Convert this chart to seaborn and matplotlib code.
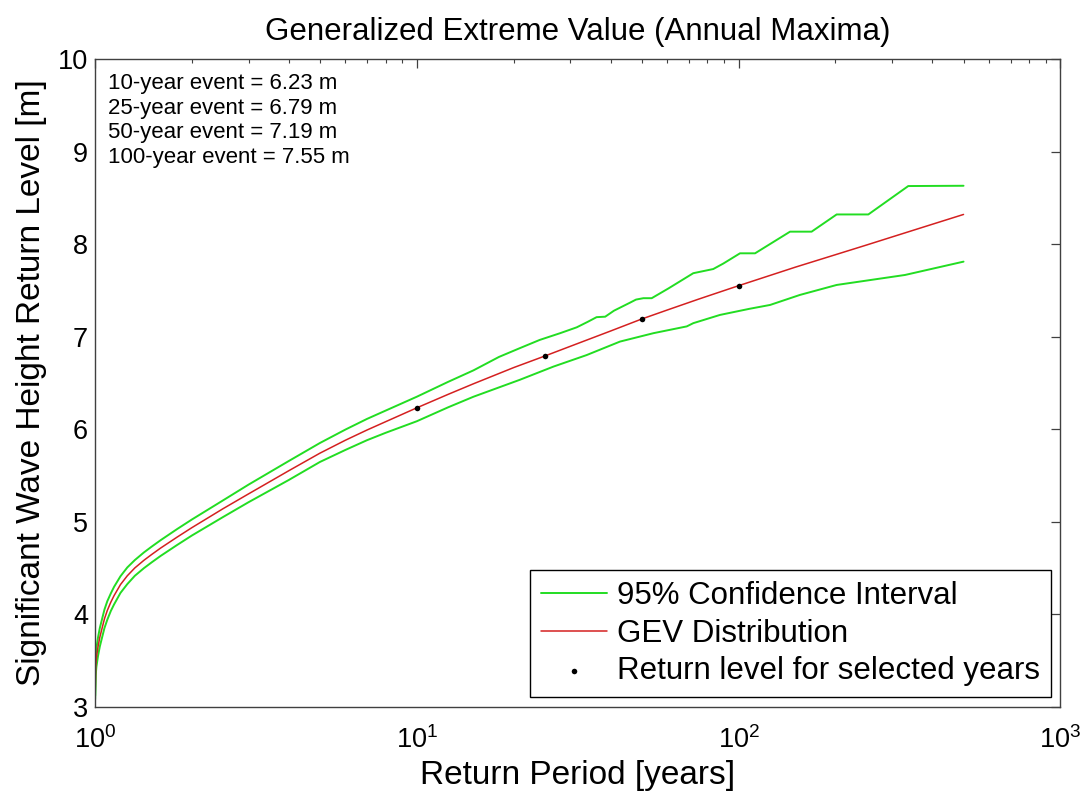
import matplotlib
matplotlib.use("Agg")
import matplotlib.pyplot as plt
from matplotlib.ticker import LogLocator, NullFormatter, FixedLocator
import pandas as pd
import seaborn as sns

# GEV return-level curve (return period in years -> significant wave height in m)
gev_period = [1.001, 1.005, 1.01, 1.022, 1.035, 1.054, 1.07, 1.092, 1.12, 1.146,
              1.2, 1.26, 1.33, 1.42, 1.5, 1.6, 1.8, 2.0, 2.5, 3.0, 4.0, 5.0, 6.0,
              7.0, 8.0, 10.0, 12.5, 15.0, 20.0, 25.0, 30.0, 40.0, 50.0, 60.0,
              75.0, 100.0, 125.0, 150.0, 200.0, 250.0, 300.0, 400.0, 500.0]
gev_level = [3.10, 3.43, 3.53, 3.65, 3.75, 3.86, 3.95, 4.04, 4.13, 4.20,
             4.32, 4.415, 4.50, 4.583, 4.645, 4.715, 4.833, 4.935, 5.14, 5.30,
             5.55, 5.74, 5.88, 5.99, 6.08, 6.23, 6.375, 6.49, 6.665, 6.79, 6.895,
             7.06, 7.19, 7.287, 7.404, 7.55, 7.66, 7.75, 7.885, 7.99, 8.077,
             8.214, 8.32]

# Upper 95% confidence bound
upper_period = [1.001, 1.005, 1.01, 1.022, 1.035, 1.054, 1.07, 1.092, 1.12, 1.146,
                1.2, 1.26, 1.33, 1.42, 1.5, 1.6, 1.8, 2.0, 2.5, 3.0, 4.0, 5.0,
                6.0, 7.0, 8.0, 10.0, 12.5, 15.0, 18.0, 20.9, 24.1, 27.9, 31.4,
                34.0, 36.2, 38.5, 41.0, 46.0, 48.0, 50.6, 53.7, 60.5, 72.3, 83.4,
                89.7, 101.0, 112.5, 144.5, 168.6, 201.7, 253.0, 336.7, 500.0]
upper_level = [3.12, 3.52, 3.63, 3.75, 3.85, 3.96, 4.05, 4.14, 4.225, 4.295,
               4.41, 4.505, 4.585, 4.668, 4.73, 4.80, 4.92, 5.023, 5.23, 5.40,
               5.655, 5.85, 5.995, 6.11, 6.20, 6.35, 6.51, 6.635, 6.78, 6.875,
               6.964, 7.037, 7.10, 7.16, 7.21, 7.215, 7.28, 7.367, 7.40, 7.415,
               7.415, 7.52, 7.685, 7.73, 7.79, 7.90, 7.90, 8.134, 8.134, 8.32,
               8.32, 8.627, 8.63]

# Lower 95% confidence bound
lower_period = [1.001, 1.005, 1.01, 1.022, 1.035, 1.054, 1.07, 1.092, 1.12, 1.146,
                1.2, 1.26, 1.33, 1.42, 1.5, 1.6, 1.8, 2.0, 2.5, 3.0, 4.0, 5.0,
                6.0, 7.0, 8.0, 10.0, 12.5, 15.0, 20.9, 26.6, 33.7, 42.8, 54.4,
                69.0, 72.3, 87.5, 108.0, 125.3, 155.0, 201.7, 329.0, 500.0]
lower_level = [3.08, 3.34, 3.43, 3.55, 3.65, 3.76, 3.85, 3.94, 4.035, 4.105,
               4.23, 4.325, 4.415, 4.498, 4.56, 4.63, 4.748, 4.85, 5.05, 5.21,
               5.45, 5.645, 5.775, 5.88, 5.96, 6.085, 6.235, 6.35, 6.533, 6.676,
               6.80, 6.946, 7.037, 7.11, 7.145, 7.234, 7.30, 7.342, 7.45, 7.558,
               7.666, 7.81]

# Selected return periods and their return levels
event_years = [10, 25, 50, 100]
event_levels = [6.23, 6.79, 7.19, 7.55]

y_ticks = [3, 4, 5, 6, 7, 8, 9, 10]

sns.set_style("white")
plt.rcParams["font.family"] = ["Liberation Sans", "DejaVu Sans"]
plt.rcParams["mathtext.fontset"] = "custom"
plt.rcParams["mathtext.rm"] = "Liberation Sans"
plt.rcParams["mathtext.it"] = "Liberation Sans:italic"
plt.rcParams["mathtext.bf"] = "Liberation Sans:bold"
plt.rcParams["text.color"] = "black"
plt.rcParams["axes.labelcolor"] = "black"
plt.rcParams["xtick.color"] = "black"
plt.rcParams["ytick.color"] = "black"

GREEN = "#22dd22"
RED = "#d42020"

fig = plt.figure(figsize=(10.9, 7.95), dpi=100)
ax = fig.add_axes([95 / 1090, 1 - 706.7 / 795, (1060.4 - 95) / 1090, (706.7 - 59) / 795])

upper_df = pd.DataFrame({"period": upper_period, "level": upper_level})
lower_df = pd.DataFrame({"period": lower_period, "level": lower_level})
gev_df = pd.DataFrame({"period": gev_period, "level": gev_level})
event_df = pd.DataFrame({"period": event_years, "level": event_levels})

sns.lineplot(data=upper_df, x="period", y="level", ax=ax, color=GREEN, lw=1.4,
             estimator=None, label="95% Confidence Interval")
sns.lineplot(data=lower_df, x="period", y="level", ax=ax, color=GREEN, lw=1.4,
             estimator=None, label="_nolegend_")
sns.lineplot(data=gev_df, x="period", y="level", ax=ax, color=RED, lw=1.1,
             estimator=None, label="GEV Distribution")
sns.scatterplot(data=event_df, x="period", y="level", ax=ax, color="black",
                s=16, edgecolor="black", linewidth=0, zorder=5,
                label="Return level for selected years")

ax.set_xscale("log")
ax.set_xlim(1, 1000)
ax.set_ylim(3, 10)
ax.yaxis.set_major_locator(FixedLocator(y_ticks))
ax.xaxis.set_major_locator(LogLocator(base=10, numticks=10))
ax.xaxis.set_minor_locator(LogLocator(base=10, subs=range(2, 10), numticks=20))
ax.xaxis.set_minor_formatter(NullFormatter())

axis_grey = "#404040"
for sp in ax.spines.values():
    sp.set_color(axis_grey)
    sp.set_linewidth(1.0)
ax.tick_params(which="both", direction="in", top=True, right=True,
               color=axis_grey, labelcolor="black")
ax.tick_params(which="major", length=6.5, width=0.9, labelsize=19.5)
ax.tick_params(which="minor", length=3.2, width=0.8)
ax.tick_params(axis="y", which="major", pad=5)
ax.tick_params(axis="x", which="major", pad=14)

ax.set_xlabel("Return Period [years]", fontsize=24, labelpad=4)
ax.set_ylabel("Significant Wave Height Return Level [m]", fontsize=24, labelpad=8)
ax.set_title("Generalized Extreme Value (Annual Maxima)", fontsize=22.5, pad=14,
             color="black")

summary = "\n".join(f"{yr}-year event = {lv:.2f} m" for yr, lv in zip(event_years, event_levels))
ax.text(0.0135, 0.978, summary, transform=ax.transAxes, ha="left", va="top",
        fontsize=16, linespacing=1.22, color="black")

leg = ax.legend(loc="lower right", fontsize=22.5, frameon=True, fancybox=False,
                edgecolor="black", framealpha=1, borderaxespad=0.3,
                handlelength=2.1, handletextpad=0.33, borderpad=0.35,
                labelspacing=0.25, markerscale=1.0)
leg.get_frame().set_linewidth(1.0)
for t in leg.get_texts():
    t.set_color("black")

fig.savefig("out.png", dpi=100, facecolor="white")
